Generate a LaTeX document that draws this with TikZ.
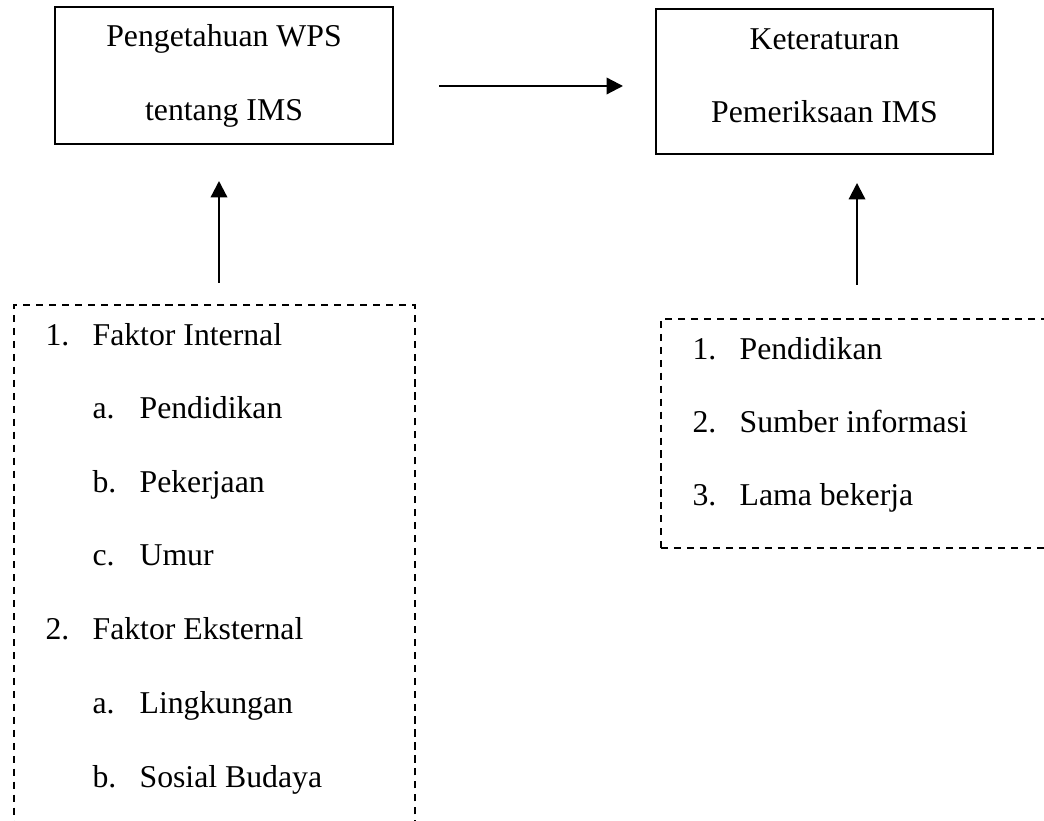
\documentclass[tikz,border=0pt]{standalone}
\usepackage{fontspec}
\setmainfont{Liberation Serif}
\usetikzlibrary{arrows.meta,fit}
\newcommand{\nomor}[1]{\makebox[17.8pt][l]{#1}}

\begin{document}
\begin{tikzpicture}[x=0.378pt, y=-0.378pt,
  font=\fontsize{12}{14}\selectfont,
  kotak/.style={draw, line width=0.85pt, inner sep=0pt},
  putus/.style={draw, line width=0.85pt, dash pattern=on 2.7pt off 2.2pt, inner sep=0pt},
  teks/.style={anchor=base, inner sep=0pt},
  butir/.style={anchor=base west, inner sep=0pt},
  panah/.style={line width=0.85pt, -{Triangle[length=6.2pt, width=6.2pt]}}]
\useasboundingbox (0,0) rectangle (1044,821);
\clip (0,0) rectangle (1044,821);

% kotak atas
\node[kotak, fit={(55,7) (393,144)}] (pws) {};
\node[teks] (pws1) at (224,47) {Pengetahuan WPS};
\node[teks] (pws2) at (224,121) {tentang IMS};
\node[kotak, fit={(656,9) (993,154)}] (ket) {};
\node[teks] (ket1) at (824.5,50) {Keteraturan};
\node[teks] (ket2) at (824.5,123) {Pemeriksaan IMS};

% kotak putus-putus
\node[putus, fit={(14,305) (415,880)}] (faktor) {};
\node[butir] (f1) at (45,345) {\nomor{1.}Faktor Internal};
\node[butir] (f1a) at (92,418.5) {\nomor{a.}Pendidikan};
\node[butir] (f1b) at (92,492) {\nomor{b.}Pekerjaan};
\node[butir] (f1c) at (92,565.5) {\nomor{c.}Umur};
\node[butir] (f2) at (45,639) {\nomor{2.}Faktor Eksternal};
\node[butir] (f2a) at (92,713) {\nomor{a.}Lingkungan};
\node[butir] (f2b) at (92,787) {\nomor{b.}Sosial Budaya};

\node[putus, fit={(661,319) (1090,548)}] (lain) {};
\node[butir] (l1) at (692,359) {\nomor{1.}Pendidikan};
\node[butir] (l2) at (692,432) {\nomor{2.}Sumber informasi};
\node[butir] (l3) at (692,505) {\nomor{3.}Lama bekerja};

% panah
\coordinate (h1) at (439,86);
\coordinate (h2) at (623,86);
\coordinate (v1) at (219,283);
\coordinate (v2) at (219,181);
\coordinate (w1) at (857,285);
\coordinate (w2) at (857,183);
\draw[panah] (h1) -- (h2);
\draw[panah] (v1) -- (v2);
\draw[panah] (w1) -- (w2);
\end{tikzpicture}
\end{document}
